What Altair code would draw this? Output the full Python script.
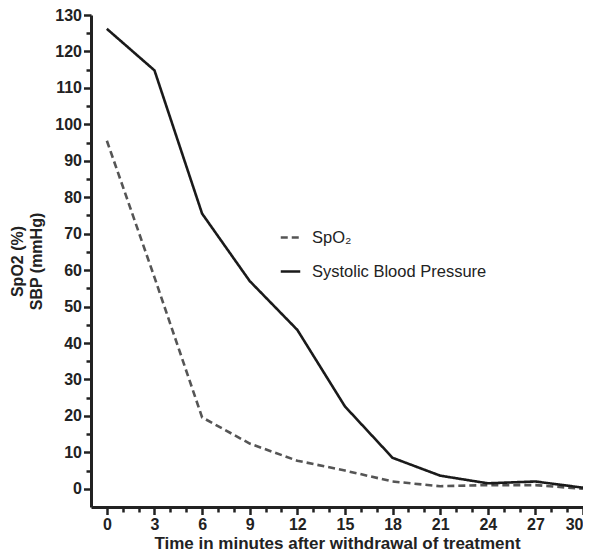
import altair as alt
import pandas as pd

minutes = [0, 3, 6, 9, 12, 15, 18, 21, 24, 27, 30]
sbp = [126.2, 114.8, 75.5, 57.0, 43.6, 22.6, 8.5, 3.6, 1.5, 2.0, 0.3]
spo2 = [95.5, 58.0, 19.6, 12.4, 7.7, 5.0, 2.0, 0.7, 1.0, 1.0, 0.0]
series_names = ["SpO₂", "Systolic Blood Pressure"]
x_ticks = list(range(0, 31))          # major every 3, minor every 1
y_ticks = list(range(0, 131, 5))      # major every 10, minor every 5

rows = []
for m, v in zip(minutes, spo2):
    rows.append({"t": m, "v": v, "s": series_names[0]})
for m, v in zip(minutes, sbp):
    rows.append({"t": m, "v": v, "s": series_names[1]})
df = pd.DataFrame(rows)

FONT = "Liberation Sans"
AX = "#222222"

xscale = alt.Scale(domain=[-1, 30], nice=False, zero=False)
yscale = alt.Scale(domain=[-5, 130], nice=False, zero=False)

legend = alt.Legend(orient="none", legendX=188, legendY=211, title=None,
                    symbolType="stroke", symbolSize=380, symbolStrokeWidth=2.6,
                    labelFont=FONT, labelFontSize=16.5, labelColor=AX, labelLimit=400,
                    rowPadding=14, labelOffset=10)

chart = alt.Chart(df).mark_line(strokeWidth=2.6).encode(
    x=alt.X("t:Q", scale=xscale, axis=alt.Axis(
        values=x_ticks, orient="bottom", title="Time in minutes after withdrawal of treatment",
        labelExpr="datum.value % 3 == 0 ? datum.label : ''",
        tickSize={"condition": {"test": "datum.value % 3 != 0", "value": 5}, "value": 7.5},
        tickColor=AX,
        grid=False, domainColor=AX, domainWidth=3, tickWidth=2.5,
        labelFont=FONT, labelFontSize=16, labelFontWeight="bold", labelColor=AX, labelPadding=2,
        titleFont=FONT, titleFontSize=17, titleFontWeight="bold", titleColor=AX, titlePadding=3,
        labelFlush=True, labelOverlap=False)),
    y=alt.Y("v:Q", scale=yscale, axis=alt.Axis(
        values=y_ticks, orient="left", title=["SpO2 (%)", "SBP (mmHg)"],
        labelExpr="datum.value % 10 == 0 ? datum.label : ''",
        tickSize={"condition": {"test": "datum.value % 10 != 0", "value": 5}, "value": 7.5},
        tickColor=AX,
        grid=False, domainColor=AX, domainWidth=3, tickWidth=2.5,
        labelFont=FONT, labelFontSize=16, labelFontWeight="bold", labelColor=AX, labelPadding=2,
        titleFont=FONT, titleFontSize=16, titleFontWeight="bold", titleColor=AX, titlePadding=10,
        titleLineHeight=19, labelFlush=False, labelOverlap=False)),
    color=alt.Color("s:N", scale=alt.Scale(domain=series_names, range=["#555555", "#1a1a1a"]),
                    legend=legend),
    strokeDash=alt.StrokeDash("s:N", scale=alt.Scale(domain=series_names, range=[[7, 4], [1, 0]]),
                              legend=legend),
).properties(
    width=492, height=492,
    autosize=alt.AutoSizeParams(type="none"),
    padding={"left": 83, "top": 7, "right": 0, "bottom": 45},
).configure_view(stroke=None)

chart.save("out.html", embed_options={"renderer": "svg", "actions": False})
